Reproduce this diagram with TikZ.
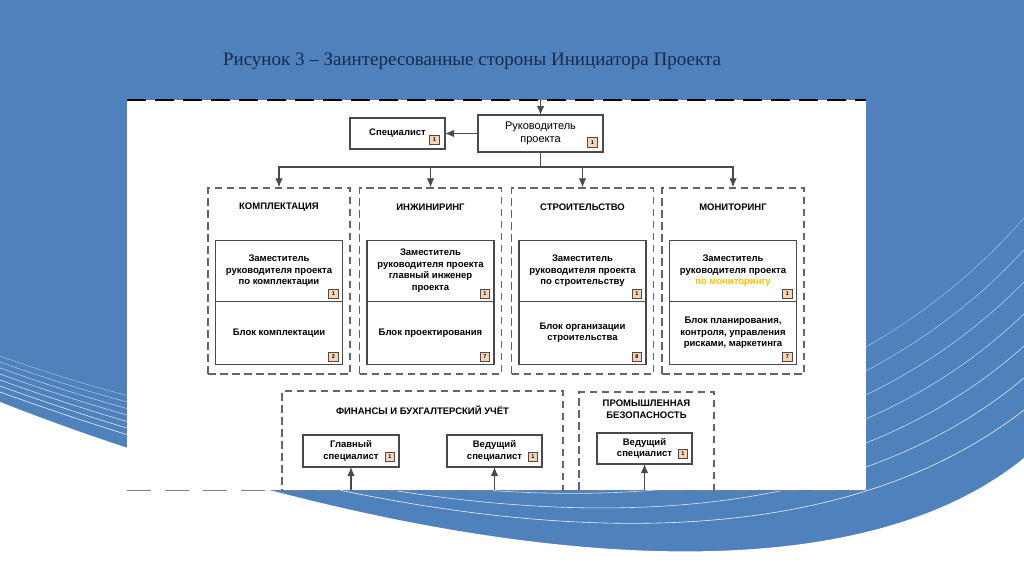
\documentclass[tikz,border=0pt]{standalone}
\usepackage{fontspec}
\setmainfont{Liberation Serif}
\newfontfamily\orgfont{Liberation Sans}
\usetikzlibrary{arrows.meta,positioning}
\definecolor{slide}{HTML}{4F81BD}
\definecolor{ink}{HTML}{1A2A4A}
\definecolor{edge}{HTML}{4A4A4A}
\definecolor{peach}{HTML}{F9D3B2}
\definecolor{mon}{HTML}{FFC000}
\tikzset{
  >={Latex[length=9pt,width=7.5pt]},
  unit/.style={draw=edge,line width=1.3pt,fill=white,align=center,inner sep=1pt,outer sep=0pt,
    font=\orgfont\bfseries\fontsize{9.5}{11.5}\selectfont},
  group/.style={draw=edge!85,line width=1.3pt,dash pattern=on 7.5pt off 4.5pt,
    minimum width=142pt,minimum height=186pt},
  grouptitle/.style={font=\orgfont\bfseries\fontsize{9.5}{11.5}\selectfont,align=center},
  badge/.style={draw=edge,line width=0.8pt,fill=peach,minimum size=9.5pt,inner sep=0pt,
    anchor=south east,font=\orgfont\bfseries\fontsize{5.5}{5.5}\selectfont},
  link/.style={draw=edge,line width=1.2pt},
}
\begin{document}
\begin{tikzpicture}[x=1pt,y=-1pt]
    \useasboundingbox (0,0) rectangle (1024,576);
    % slide background
    \fill[slide] (0,0) rectangle (1024,576);
    \fill[white] (0,402) .. controls (300,520) and (800,640) .. (1024,458) -- (1024,576) -- (0,576) -- cycle;
    \foreach \i in {0,...,6}{
        \draw[white,line width=0.6pt,opacity=0.9-0.08*\i] (0,392-6*\i) .. controls (300,500-6*\i) and (760,615-16*\i) .. (1024,410-32*\i);
    }
    \node[ink,font=\fontsize{19}{23}\selectfont] (title) at (472,61) {Рисунок 3 – Заинтересованные стороны Инициатора Проекта};
    % picture area
    \fill[white] (127,100) rectangle (866,490);
    \draw[black,line width=1.5pt,dash pattern=on 19pt off 9pt] (127,100) -- (866,100);
    \draw[edge!70,line width=1pt,dash pattern=on 24pt off 14pt] (127,490) -- (866,490);
    % top level
    \node[unit,minimum width=125pt,minimum height=37pt,font=\orgfont\fontsize{11}{13}\selectfont] (lead) at (540.5,133.5) {Руководитель\\проекта};
    \node[badge] (leadb) at ([xshift=-5.5pt,yshift=4.5pt]lead.south east) {1};
    \node[unit,minimum width=95pt,minimum height=31pt] (spec) at (397.5,133.5) {Специалист};
    \node[badge] (specb) at ([xshift=-5.5pt,yshift=4pt]spec.south east) {1};
    \coordinate (in) at (540.5,100);
    \coordinate (bus) at (540.5,167);
    \draw[link,->] (in) -- (lead);
    \draw[link,->] (lead) -- (spec);
    \draw[link] (lead) -- (bus);
    % four departments
    \foreach \i/\x/\ttl/\up/\low/\nb in {
        1/279/КОМПЛЕКТАЦИЯ/{Заместитель\\руководителя проекта\\по комплектации}/{Блок комплектации}/2,
        2/430.5/ИНЖИНИРИНГ/{Заместитель\\руководителя проекта\\главный инженер\\проекта}/{Блок проектирования}/7,
        3/582.5/СТРОИТЕЛЬСТВО/{Заместитель\\руководителя проекта\\по строительству}/{Блок организации\\строительства}/8,
        4/733/МОНИТОРИНГ/{Заместитель\\руководителя проекта\\\textcolor{mon}{по мониторингу}}/{Блок планирования,\\контроля, управления\\рисками, маркетинга}/7}{
        \node[group] (g\i) at (\x,281) {};
        \node[grouptitle] (t\i) at ([yshift=-20pt]g\i.north) {\ttl};
        \node[unit,minimum width=127pt,minimum height=61pt,below=53pt of g\i.north] (up\i) {\up};
        \node[unit,minimum width=127pt,minimum height=63pt,below=0pt of up\i] (low\i) {\low};
        \node[badge] (ub\i) at ([xshift=-4pt,yshift=2.5pt]up\i.south east) {1};
        \node[badge] (lb\i) at ([xshift=-4pt,yshift=2.5pt]low\i.south east) {\nb};
        \draw[link,->] (bus) -| (g\i);
    }
    % lower departments, cut by the picture edge
    \begin{scope}
        \clip (127,100) rectangle (866,490);
        \node[group,minimum width=281pt,minimum height=120pt] (fin) at (422.5,451) {};
        \node[group,minimum width=135pt,minimum height=120pt] (safe) at (646.5,452) {};
    \end{scope}
    \node[grouptitle] (fint) at ([yshift=-20pt]fin.north) {ФИНАНСЫ И БУХГАЛТЕРСКИЙ УЧЁТ};
    \node[grouptitle,font=\orgfont\bfseries\fontsize{9.5}{12}\selectfont] (safet) at ([yshift=-18pt]safe.north) {ПРОМЫШЛЕННАЯ\\БЕЗОПАСНОСТЬ};
    \node[unit,minimum width=96pt,minimum height=32pt] (chief) at (351,451) {Главный\\специалист};
    \node[unit,minimum width=95pt,minimum height=32pt] (senior) at (494.5,451) {Ведущий\\специалист};
    \node[unit,minimum width=95pt,minimum height=31pt] (safety) at (644.5,448.5) {Ведущий\\специалист};
    \foreach \n in {chief,senior,safety}{
        \node[badge] (\n-badge) at ([xshift=-4pt,yshift=5pt]\n.south east) {1};
    }
    \coordinate (s1) at (351,490);
    \coordinate (s2) at (494.5,490);
    \coordinate (s3) at (644.5,490);
    \draw[link,->] (s1) -- (chief);
    \draw[link,->] (s2) -- (senior);
    \draw[link,->] (s3) -- (safety);
\end{tikzpicture}
\end{document}
